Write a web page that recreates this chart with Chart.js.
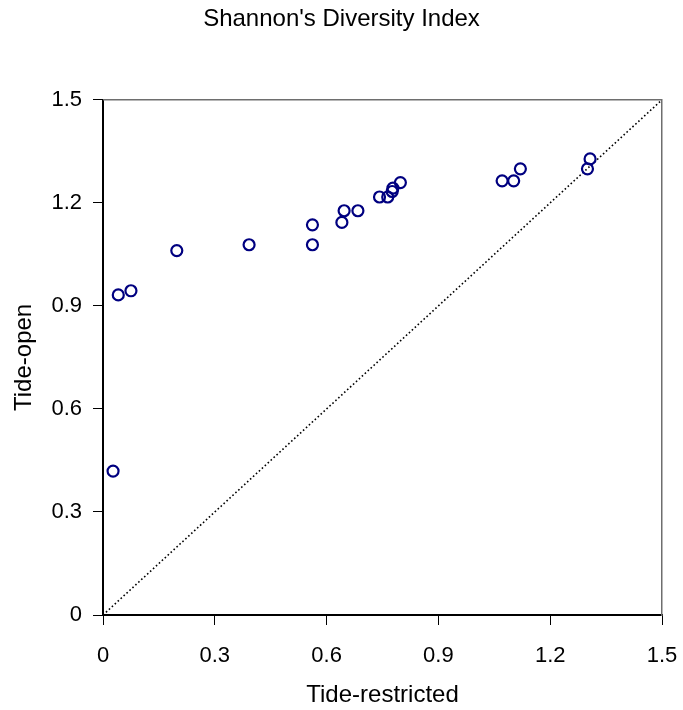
<!DOCTYPE html>
<html>
<head>
<meta charset="utf-8">
<script src="https://cdn.jsdelivr.net/npm/chart.js@4/dist/chart.umd.min.js"></script>
<style>
  html, body { margin: 0; padding: 0; background: #fff; overflow: hidden; }
  #wrap { width: 683px; height: 710px; }
</style>
</head>
<body>
<div id="wrap"><canvas id="diversityChart"></canvas></div>
<script>
// Shannon's diversity index, one point per site
var tideRestricted = [0.027, 0.041, 0.075, 0.198, 0.392, 0.562, 0.562, 0.641, 0.647, 0.684, 0.742, 0.764, 0.776, 0.778, 0.798, 1.071, 1.102, 1.120, 1.300, 1.307];
var tideOpen       = [0.419, 0.932, 0.944, 1.061, 1.078, 1.078, 1.136, 1.143, 1.177, 1.177, 1.217, 1.217, 1.233, 1.243, 1.259, 1.264, 1.264, 1.299, 1.299, 1.328];
var oneToOne = [0, 1.5]; // 1:1 reference line
var tickValues = [0, 0.3, 0.6, 0.9, 1.2, 1.5];
var tickLabels = ['0', '0.3', '0.6', '0.9', '1.2', '1.5'];

var points = tideRestricted.map(function(x, i) { return { x: x, y: tideOpen[i] }; });
var diagonal = oneToOne.map(function(v) { return { x: v, y: v }; });

var fontFamily = '"Liberation Sans", Arial, sans-serif';

// gray line along the top of the plot area
var topLine = {
    id: 'topLine',
    afterDatasetsDraw: function(chart) {
        var a = chart.chartArea, c = chart.ctx;
        c.save();
        c.strokeStyle = '#6e6e6e';
        c.lineWidth = 1.5;
        c.beginPath();
        c.moveTo(a.left, a.top);
        c.lineTo(a.right, a.top);
        c.stroke();
        c.restore();
    }
};

function setTicks(scale) {
    scale.ticks = tickValues.map(function(v) { return { value: v }; });
}

// keep end labels from pushing the plot area inwards
function noEdgePadding(scale) {
    scale.paddingLeft = 0;
    scale.paddingRight = 0;
    scale.paddingTop = 0;
    scale.paddingBottom = 0;
}

var ctx = document.getElementById('diversityChart').getContext('2d');
var chart = new Chart(ctx, {
    type: 'scatter',
    data: {
        datasets: [{
            label: 'Sites',
            data: points,
            pointRadius: 5.5,
            pointHoverRadius: 5.5,
            pointBorderWidth: 2.2,
            pointBorderColor: '#000080',
            pointBackgroundColor: 'rgba(0,0,0,0)',
            order: 1
        }, {
            label: '1:1',
            type: 'line',
            data: diagonal,
            borderColor: '#000',
            borderWidth: 1.6,
            borderDash: [1.6, 2.4],
            pointRadius: 0,
            fill: false,
            order: 2
        }]
    },
    options: {
        responsive: true,
        maintainAspectRatio: false,
        animation: false,
        layout: { padding: 0 },
        plugins: {
            legend: { display: false },
            tooltip: { enabled: false },
            title: {
                display: true,
                text: "Shannon's Diversity Index",
                color: '#000',
                font: { family: fontFamily, size: 24, weight: 'normal' },
                padding: { top: 5, bottom: 66 }
            }
        },
        scales: {
            x: {
                type: 'linear',
                min: 0,
                max: 1.5,
                afterBuildTicks: setTicks,
                afterFit: function(scale) { scale.height = 95; noEdgePadding(scale); },
                border: { display: true, color: '#000', width: 2 },
                grid: { drawOnChartArea: false, drawTicks: true, tickLength: 10, color: '#000', lineWidth: 1 },
                ticks: {
                    color: '#000',
                    padding: 18,
                    maxRotation: 0,
                    font: { family: fontFamily, size: 22 },
                    callback: function(value, index) { return tickLabels[index]; }
                },
                title: {
                    display: true,
                    text: 'Tide-restricted',
                    color: '#000',
                    font: { family: fontFamily, size: 24 },
                    padding: { top: 0, bottom: 0 }
                }
            },
            y: {
                type: 'linear',
                min: 0,
                max: 1.5,
                afterBuildTicks: setTicks,
                afterFit: function(scale) { scale.width = 103; noEdgePadding(scale); },
                border: { display: true, color: '#000', width: 2 },
                grid: { drawOnChartArea: false, drawTicks: true, tickLength: 10, color: '#000', lineWidth: 1 },
                ticks: {
                    color: '#000',
                    padding: 11,
                    font: { family: fontFamily, size: 22 },
                    callback: function(value, index) { return tickLabels[index]; }
                },
                title: {
                    display: true,
                    text: 'Tide-open',
                    color: '#000',
                    font: { family: fontFamily, size: 24 },
                    padding: { top: 10, bottom: 0 }
                }
            },
            // empty right axis: gives the gray right border and the right margin
            yRight: {
                type: 'linear',
                position: 'right',
                min: 0,
                max: 1.5,
                afterFit: function(scale) { scale.width = 21; noEdgePadding(scale); },
                border: { display: true, color: '#6e6e6e', width: 1.5 },
                grid: { display: false },
                ticks: { display: false }
            }
        }
    },
    plugins: [topLine]
});
</script>
</body>
</html>
